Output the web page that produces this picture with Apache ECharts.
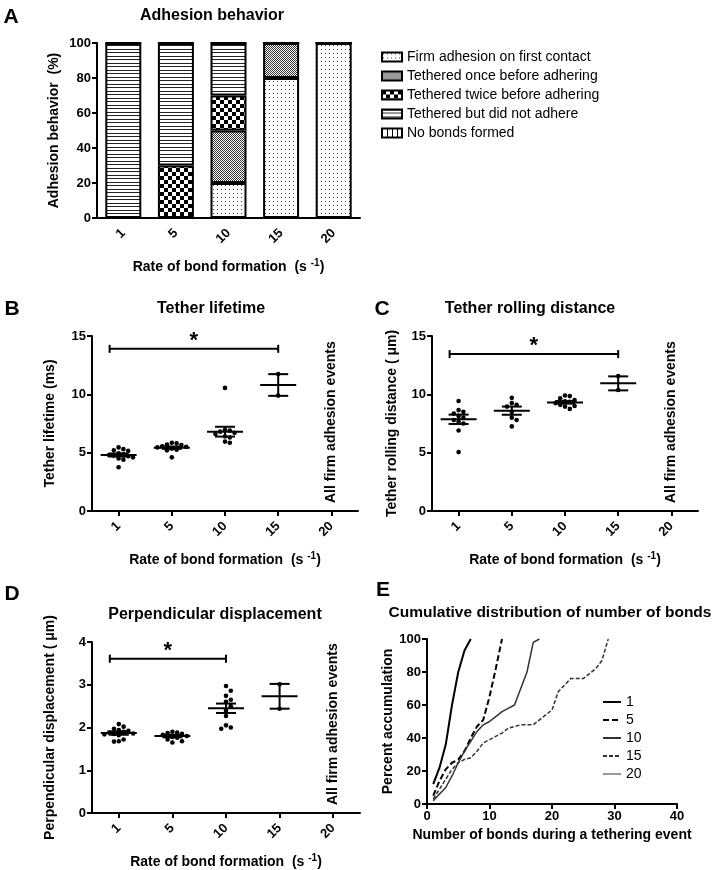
<!DOCTYPE html>
<html><head><meta charset="utf-8">
<script src="https://cdn.jsdelivr.net/npm/echarts@6/dist/echarts.min.js"></script>
<style>html,body{margin:0;padding:0;background:#fff}#c{width:713px;height:870px}</style>
</head><body><div id="c"></div>
<script>
const FONT = "'Liberation Sans', Arial, Helvetica, sans-serif";

// ---------- Panel A: adhesion behavior (%) ----------
const rateCategories = ['1', '5', '10', '15', '20'];
const adhesionNames = ['Firm adhesion on first contact', 'Tethered once before adhering', 'Tethered twice before adhering', 'Tethered but did not adhere', 'No bonds formed'];
const firmAdhesion     = [0, 0, 20, 80, 100];
const tetheredOnce     = [0, 0, 30, 20, 0];
const tetheredTwice    = [0, 30, 20, 0, 0];
const tetheredNoAdhere = [100, 70, 30, 0, 0];
const noBondsFormed    = [0, 0, 0, 0, 0];

// ---------- Panel B: tether lifetime (ms) ----------
const lifetime1  = [5.45, 5.3, 5.2, 5.15, 4.95, 4.85, 4.8, 4.75, 4.7, 4.6, 4.5, 4.4, 3.75];
const lifetime5  = [5.85, 5.8, 5.7, 5.65, 5.55, 5.5, 5.45, 5.35, 5.25, 5.2, 4.6];
const lifetime10 = [10.55, 6.95, 6.9, 6.8, 6.7, 6.6, 6.4, 6.3, 5.95, 5.85];
const lifetime15 = [11.74, 9.89];
const lifetimeMean = [4.8, 5.43, 6.8, 10.8];
const lifetimeSem  = [0.13, 0.1, 0.42, 0.93];

// ---------- Panel C: tether rolling distance (um) ----------
const rolling1  = [9.43, 8.65, 8.5, 8.35, 8.15, 8.0, 7.8, 7.65, 7.5, 6.9, 5.05];
const rolling5  = [9.7, 9.25, 9.1, 8.95, 8.5, 8.0, 7.8, 7.25];
const rolling10 = [9.9, 9.85, 9.65, 9.5, 9.4, 9.35, 9.25, 9.1, 9.0, 8.95, 8.75];
const rolling15 = [11.57, 10.37];
const rollingMean = [7.86, 8.6, 9.31, 10.94];
const rollingSem  = [0.4, 0.35, 0.11, 0.6];

// ---------- Panel D: perpendicular displacement (um) ----------
const perp1  = [2.08, 2.02, 1.97, 1.94, 1.92, 1.9, 1.88, 1.86, 1.85, 1.84, 1.82, 1.72, 1.68, 1.67];
const perp5  = [1.9, 1.88, 1.87, 1.85, 1.83, 1.8, 1.78, 1.76, 1.72, 1.68, 1.65];
const perp10 = [2.97, 2.86, 2.74, 2.65, 2.6, 2.5, 2.4, 2.27, 2.05, 2.0, 1.97];
const perp15 = [3.01, 2.44];
const perpMean = [1.87, 1.8, 2.45, 2.73];
const perpSem  = [0.04, 0.03, 0.11, 0.29];

// significance brackets: [fromCategory, level, toCategory]
const sigLifetime = [0, 13.9, 3];
const sigRolling  = [0, 13.45, 3];
const sigPerp     = [0, 3.61, 2];
const firmNote = 'All firm adhesion events';

// ---------- Panel E: cumulative distribution ----------
const cumNames = ['1', '5', '10', '15', '20'];
const cum1  = [[1,12],[2,22],[3,36],[4,60],[5,80],[6,93],[7,100]];
const cum5  = [[1,5],[2,14],[3,21],[4,25],[5,27],[6,32],[7,40],[8,47],[9,51],[10,65],[11,82],[12,100]];
const cum10 = [[1,2],[2,6],[3,10],[4,17],[5,25],[6,32],[7,38],[8,44],[9,48],[10,50],[11,53],[12,56],[13,58],[14,60],[15,70],[16,80],[17,98],[18,100]];
const cum15 = [[1,3],[2,9],[3,15],[4,21],[5,25],[6,27],[7,28],[8,32],[9,37],[10,39],[11,41],[12,43],[13,46],[14,47],[15,48],[16,48],[17,48],[18,51],[19,54],[20,57],[21,68],[22,72],[23,76],[24,76],[25,76],[26,79],[27,82],[28,87],[29,100]];
const cum20 = [];

// ---------- styling helpers ----------
function pattern(w, h, draw) {
  const c = document.createElement('canvas');
  c.width = w; c.height = h;
  const ctx = c.getContext('2d');
  ctx.fillStyle = '#fff'; ctx.fillRect(0, 0, w, h);
  draw(ctx);
  return { image: c, repeat: 'repeat' };
}
const patFirm = pattern(4, 4, ctx => { ctx.fillStyle = '#444'; ctx.fillRect(1, 1, 1, 1); });
const patOnce = pattern(2, 2, ctx => { ctx.fillStyle = '#333'; ctx.fillRect(0, 0, 1, 1); ctx.fillRect(1, 1, 1, 1); });
const patTwice = pattern(8, 8, ctx => { ctx.fillStyle = '#000'; ctx.fillRect(0, 0, 4, 4); ctx.fillRect(4, 4, 4, 4); });
const patLinesH = pattern(4, 7, ctx => { ctx.fillStyle = '#222'; ctx.fillRect(0, 0, 4, 1); ctx.fillRect(0, 3, 4, 1); });
const patLinesV = pattern(5, 4, ctx => { ctx.fillStyle = '#000'; ctx.fillRect(0, 0, 1, 4); });
const adhesionPatterns = [patFirm, patOnce, patTwice, patLinesH, patLinesV];
const adhesionData = [firmAdhesion, tetheredOnce, tetheredTwice, tetheredNoAdhere, noBondsFormed];

const axisLine = { show: true, lineStyle: { color: '#000', width: 2 } };
const axisTick = { show: true, length: 5, lineStyle: { color: '#000', width: 2 } };
const tickLabel = { color: '#000', fontFamily: FONT, fontWeight: 'bold', fontSize: 13 };
const nameStyle = {
  color: '#000', fontFamily: FONT, fontWeight: 'bold', fontSize: 14,
  rich: { sup: { color: '#000', fontFamily: FONT, fontWeight: 'bold', fontSize: 10, padding: [0, 0, 8, 0] } }
};
const rateName = 'Rate of bond formation  (s {sup|-1})';

const grids = [
  { left: 97, top: 43, width: 263, height: 175 },
  { left: 92, top: 336, width: 266, height: 175 },
  { left: 432, top: 336, width: 266, height: 175 },
  { left: 92, top: 642, width: 268, height: 175 },
  { left: 427, top: 639, width: 250, height: 165 }
];

function catAxis(g, ticks) {
  return {
    type: 'category', gridIndex: g, data: rateCategories,
    axisLine, axisTick: ticks ? Object.assign({ alignWithLabel: true }, axisTick) : { show: false },
    axisLabel: Object.assign({ rotate: 45, margin: 13 }, tickLabel),
    name: rateName, nameLocation: 'middle', nameGap: 40, nameTextStyle: nameStyle
  };
}
function valAxis(g, max, interval, name, gap) {
  return {
    type: 'value', gridIndex: g, min: 0, max, interval,
    axisLine, axisTick, axisLabel: Object.assign({ margin: 6 }, tickLabel),
    splitLine: { show: false },
    name, nameLocation: 'middle', nameGap: gap, nameTextStyle: nameStyle
  };
}

function swarmRender(groups) {
  return function (params, api) {
    const cat = api.value(0);
    const idx = api.value(2);
    const vals = groups[cat];
    const pts = vals.map(v => api.coord([cat, v]));
    const order = vals.map((v, i) => i).sort((a, b) => vals[b] - vals[a]);
    const xs = [];
    const placed = [];
    const D = 4.8;
    for (const i of order) {
      const y = pts[i][1];
      let off = 0;
      for (let t = 0; t < 30; t++) {
        off = t === 0 ? 0 : (t % 2 ? 1 : -1) * Math.ceil(t / 2) * D;
        if (placed.every(p => Math.hypot(p[0] - off, p[1] - y) >= D)) break;
      }
      xs[i] = off; placed.push([off, y]);
    }
    return { type: 'circle', shape: { cx: pts[idx][0] + xs[idx], cy: pts[idx][1], r: 2.3 }, style: { fill: '#000' } };
  };
}
function errRender(params, api) {
  const c = api.value(0), m = api.value(1), s = api.value(2);
  const pm = api.coord([c, m]), pt = api.coord([c, m + s]), pb = api.coord([c, m - s]);
  const st = { stroke: '#000', lineWidth: 2 };
  return { type: 'group', children: [
    { type: 'line', shape: { x1: pm[0] - 18, y1: pm[1], x2: pm[0] + 18, y2: pm[1] }, style: st },
    { type: 'line', shape: { x1: pt[0], y1: pt[1], x2: pb[0], y2: pb[1] }, style: st },
    { type: 'line', shape: { x1: pt[0] - 10, y1: pt[1], x2: pt[0] + 10, y2: pt[1] }, style: st },
    { type: 'line', shape: { x1: pb[0] - 10, y1: pb[1], x2: pb[0] + 10, y2: pb[1] }, style: st }
  ] };
}
function sigRender(params, api) {
  const a = api.coord([api.value(0), api.value(1)]);
  const b = api.coord([api.value(2), api.value(1)]);
  const x1 = a[0] - 9, x2 = b[0], y = a[1];
  const st = { stroke: '#000', lineWidth: 2 };
  return { type: 'group', children: [
    { type: 'line', shape: { x1, y1: y, x2, y2: y }, style: st },
    { type: 'line', shape: { x1, y1: y - 4, x2: x1, y2: y + 4 }, style: st },
    { type: 'line', shape: { x1: x2, y1: y - 4, x2, y2: y + 4 }, style: st },
    { type: 'text', x: (x1 + x2) / 2, y: y - 8, style: { text: '*', font: 'bold 22px ' + FONT, fill: '#000', align: 'center', verticalAlign: 'middle' } }
  ] };
}
function noteRender(params, api) {
  const p = api.coord([api.value(0), api.value(1)]);
  return { type: 'text', x: p[0], y: p[1] - 8, rotation: Math.PI / 2,
    style: { text: firmNote, font: 'bold 14px ' + FONT, fill: '#000', align: 'left', verticalAlign: 'middle' } };
}

function dotSeries(g, groups, means, sems, sig) {
  const pts = [];
  groups.forEach((arr, c) => arr.forEach((v, i) => pts.push([c, v, i])));
  const base = { type: 'custom', xAxisIndex: g, yAxisIndex: g, silent: true, clip: false };
  return [
    Object.assign({ renderItem: swarmRender(groups), data: pts }, base),
    Object.assign({ renderItem: errRender, data: means.map((m, c) => [c, m, sems[c]]) }, base),
    Object.assign({ renderItem: sigRender, data: [sig] }, base),
    Object.assign({ renderItem: noteRender, data: [[4, 0]] }, base)
  ];
}

const series = [];
adhesionNames.forEach((n, k) => {
  series.push({
    type: 'bar', name: n, stack: 'adh', xAxisIndex: 0, yAxisIndex: 0, barWidth: 36,
    data: adhesionData[k], silent: true,
    itemStyle: { color: adhesionPatterns[k], borderColor: '#000', borderWidth: 2 }
  });
});
series.push(...dotSeries(1, [lifetime1, lifetime5, lifetime10, lifetime15], lifetimeMean, lifetimeSem, sigLifetime));
series.push(...dotSeries(2, [rolling1, rolling5, rolling10, rolling15], rollingMean, rollingSem, sigRolling));
series.push(...dotSeries(3, [perp1, perp5, perp10, perp15], perpMean, perpSem, sigPerp));

const cumData = [cum1, cum5, cum10, cum15, cum20];
const cumStyles = [
  { color: '#000', width: 2, type: 'solid' },
  { color: '#000', width: 2, type: [6, 3] },
  { color: '#333', width: 1.5, type: 'solid' },
  { color: '#333', width: 1.5, type: [4, 2] },
  { color: '#999', width: 1.5, type: 'solid' }
];
cumNames.forEach((n, k) => {
  series.push({
    type: 'line', name: n, xAxisIndex: 4, yAxisIndex: 4, data: cumData[k],
    symbol: 'none', silent: true, color: cumStyles[k].color, lineStyle: cumStyles[k]
  });
});

const titleFont = 'bold 16px ' + FONT;
const letterFont = 'bold 21px ' + FONT;
function txt(x, y, text, font, align) {
  return { type: 'text', x, y, style: { text, font, fill: '#000', align: align || 'center', verticalAlign: 'middle' } };
}

const option = {
  animation: false,
  backgroundColor: '#fff',
  grid: grids,
  xAxis: [
    catAxis(0, false), catAxis(1, true), catAxis(2, true), catAxis(3, true),
    { type: 'value', gridIndex: 4, min: 0, max: 40, interval: 10, axisLine, axisTick,
      axisLabel: Object.assign({ margin: 6 }, tickLabel), splitLine: { show: false },
      name: 'Number of bonds during a tethering event', nameLocation: 'middle', nameGap: 24, nameTextStyle: nameStyle }
  ],
  yAxis: [
    valAxis(0, 100, 20, 'Adhesion behavior  (%)', 36),
    valAxis(1, 15, 5, 'Tether lifetime (ms)', 35),
    valAxis(2, 15, 5, 'Tether rolling distance ( μm)', 33),
    valAxis(3, 4, 1, 'Perpendicular displacement ( μm)', 35),
    valAxis(4, 100, 20, 'Percent accumulation', 32)
  ],
  legend: [
    { data: adhesionNames, orient: 'vertical', left: 376, top: 45, itemWidth: 20, itemHeight: 9, itemGap: 5,
      icon: 'rect', selectedMode: false, textStyle: { fontFamily: FONT, fontSize: 14, color: '#000' } },
    { data: cumNames, orient: 'vertical', left: 597, top: 690, itemWidth: 18, itemHeight: 10, itemGap: 4,
      selectedMode: false, itemStyle: { opacity: 0 },
      textStyle: { fontFamily: FONT, fontSize: 14, color: '#000' } }
  ],
  graphic: [
    txt(11, 17, 'A', letterFont), txt(212, 16, 'Adhesion behavior', titleFont),
    txt(12, 309, 'B', letterFont), txt(211, 309, 'Tether lifetime', titleFont),
    txt(382, 309, 'C', letterFont), txt(530, 309, 'Tether rolling distance', titleFont),
    txt(12, 594, 'D', letterFont), txt(215, 615, 'Perpendicular displacement', titleFont),
    txt(383, 590, 'E', letterFont), txt(550, 613, 'Cumulative distribution of number of bonds', 'bold 15.5px ' + FONT)
  ],
  series
};
const chart = echarts.init(document.getElementById('c'));
chart.setOption(option);
</script>
</body></html>
